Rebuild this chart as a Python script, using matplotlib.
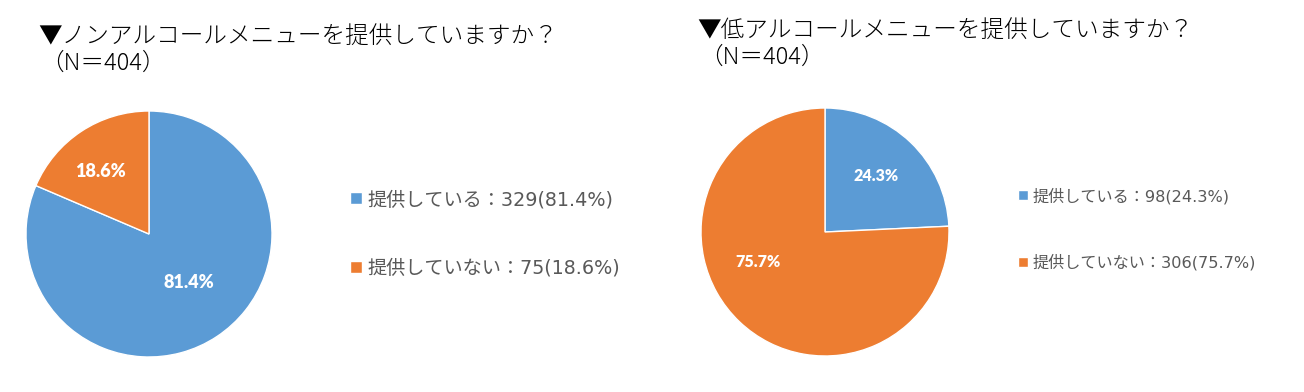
import matplotlib
matplotlib.use("Agg")
import matplotlib.pyplot as plt
import numpy as np

plt.rcParams['font.family'] = ['Noto Sans CJK JP', 'DejaVu Sans']

categories = ["提供している", "提供していない"]
nonalc_counts = [329, 75]
lowalc_counts = [98, 306]
total_n = 404
titles = ["▼ノンアルコールメニューを提供していますか？", "▼低アルコールメニューを提供していますか？"]
subtitle = "（N＝404）"

colors = ["#5B9BD5", "#ED7D31"]
W, H = 1304, 392
fig = plt.figure(figsize=(W / 100, H / 100), dpi=100)


def px_axes(cx, cy, r):
    return fig.add_axes([(cx - r) / W, (H - cy - r) / H, 2 * r / W, 2 * r / H])


def draw(counts, cx, cy, r, lab_pos, lab_fs, title, tx, ty, tfs, leg_x, leg_y, leg_fs, leg_sp):
    ax = px_axes(cx, cy, r)
    pcts = [c / total_n * 100 for c in counts]
    wedges, _ = ax.pie(counts, colors=colors, startangle=90, counterclock=False,
                       wedgeprops=dict(edgecolor="white", linewidth=1.0), radius=1.0)
    ax.set_xlim(-1, 1)
    ax.set_ylim(-1, 1)
    ax.set_aspect("equal")
    ax.axis("off")
    for p, (ang, dist) in zip(pcts, lab_pos):
        a = np.deg2rad(ang)
        ax.text(dist * np.cos(a), dist * np.sin(a), f"{p:.1f}%", ha="center", va="center",
                color="white", fontsize=lab_fs, fontweight="heavy", family=["Lato", "DejaVu Sans"])
    fig.text(tx / W, 1 - ty / H, title, fontsize=tfs, color="#000000", va="center", ha="left",
             fontweight="light")
    fig.text((tx + 2) / W, 1 - (ty + 27) / H, subtitle, fontsize=tfs, color="#000000", va="center",
             ha="left", fontweight="light")
    labels = [f"{c}：{n}({p:.1f}%)" for c, n, p in zip(categories, counts, pcts)]
    leg = fig.legend(wedges, labels, loc="center left", bbox_to_anchor=(leg_x / W, 1 - leg_y / H),
                     frameon=False, labelspacing=leg_sp, handlelength=0.6,
                     handleheight=0.6, handletextpad=0.3, borderpad=0, borderaxespad=0,
                     prop=dict(family=["DejaVu Sans", "Noto Sans CJK JP"], size=leg_fs))
    for t in leg.get_texts():
        t.set_color("#595959")


draw(nonalc_counts, 149, 234, 123, [(-50, 0.51), (128, 0.64)], 13,
     titles[0], 38, 36, 17, 350, 234, 13.8, 2.6)
draw(lowalc_counts, 825, 232, 124, [(47.7, 0.61), (204, 0.59)], 11.5,
     titles[1], 697, 30, 17, 1018, 229, 11.6, 3.1)

fig.savefig("out.png", dpi=100, facecolor="white")
